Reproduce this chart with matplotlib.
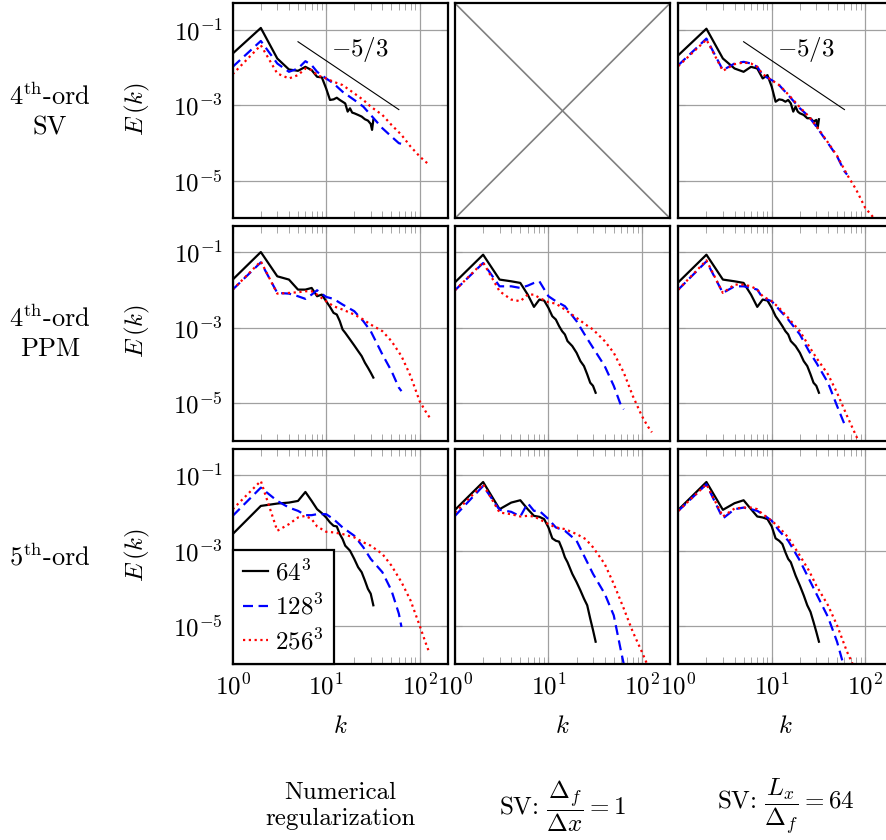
import numpy as np
import matplotlib.pyplot as plt
from matplotlib.ticker import LogLocator, NullLocator

plt.rcParams['mathtext.fontset'] = 'cm'
plt.rcParams['font.family'] = 'serif'
plt.rcParams['font.serif'] = ['cmr10']
plt.rcParams['axes.formatter.use_mathtext'] = True

# wavenumbers sampled for each grid resolution
k64 = [1, 2, 3, 4, 5, 6, 7, 8, 9, 10, 11, 12, 13, 14, 15, 16, 18, 20, 22, 24, 26, 28, 30, 32]
k64_sv = [1, 2, 3, 4, 5, 6, 7, 8, 9, 10, 11, 12, 13, 14, 15, 16, 17, 18, 19, 20, 22, 24, 26, 28, 30, 31, 32]
k128 = [1, 2, 3, 4, 5, 6, 7, 8, 10, 12, 15, 20, 25, 30, 40, 50, 60, 64]
k256 = [1, 2, 3, 4, 5, 6, 7, 8, 10, 12, 15, 20, 25, 30, 40, 50, 64, 80, 100, 115, 128]

# 4th-order SV, numerical regularization
sv_num_64 = [0.0233, 0.111, 0.0172, 0.00881, 0.00811, 0.01035, 0.00845, 0.00564, 0.00542, 0.00277,
             0.00137, 0.00142, 0.00157, 0.00137, 0.00123, 0.00111, 0.000673, 0.000824, 0.000633,
             0.000608, 0.000549, 0.000497, 0.000422, 0.000389, 0.000318, 0.000221, 0.000405]
sv_num_128 = [0.01035, 0.0502, 0.01268, 0.00764, 0.00935, 0.0146, 0.01145, 0.00764, 0.00509, 0.00376,
              0.00226, 0.00137, 0.000912, 0.000549, 0.000244, 0.000147, 9.8e-5, 9.4e-5]
sv_num_256 = [0.00662, 0.0387, 0.0069, 0.00509, 0.00624, 0.00935, 0.00845, 0.00624, 0.00509, 0.00416,
              0.0034, 0.00205, 0.00137, 0.000912, 0.000549, 0.000299, 0.000163, 8.0e-5, 4.4e-5,
              3.2e-5, 2.6e-5]

# 4th-order SV, Lx/Delta_f = 64
sv_lx_64 = [0.0210, 0.106, 0.0172, 0.00935, 0.00764, 0.01035, 0.00935, 0.00509, 0.00624, 0.00307,
            0.00123, 0.00142, 0.00137, 0.00123, 0.00137, 0.00111, 0.000673, 0.000912, 0.000673,
            0.000608, 0.000549, 0.000449, 0.000449, 0.000366, 0.000405, 0.000244, 0.000422]
sv_lx_128 = [0.01145, 0.058, 0.00845, 0.01268, 0.01403, 0.01268, 0.01035, 0.00624, 0.0046, 0.0034,
             0.00185, 0.000824, 0.000497, 0.00027, 9.8e-5, 4.4e-5, 1.76e-5, 1.44e-5]
sv_lx_256 = [0.0108, 0.0545, 0.00811, 0.01217, 0.01346, 0.01268, 0.01035, 0.00662, 0.0046, 0.0034,
             0.00193, 0.000875, 0.000497, 0.000281, 0.000102, 4.55e-5, 1.44e-5, 5.8e-6, 1.9e-6,
             1.26e-6, 9.3e-7]

# 4th-order PPM, numerical regularization
ppm_num_64 = [0.0190, 0.102, 0.0232, 0.0190, 0.0103, 0.0103, 0.0114, 0.00687, 0.0076, 0.00507,
              0.00359, 0.00249, 0.00225, 0.0015, 0.000903, 0.000738, 0.000492, 0.000341, 0.000242,
              0.000178, 0.000119, 8.8e-5, 6.5e-5, 4.8e-5]
ppm_num_128 = [0.0103, 0.0544, 0.00841, 0.00807, 0.00687, 0.00585, 0.0076, 0.0099, 0.00659, 0.00585,
               0.00414, 0.00276, 0.0015, 0.000816, 0.000197, 7.2e-5, 2.6e-5, 2.1e-5]
ppm_num_256 = [0.0103, 0.0578, 0.00807, 0.00841, 0.00877, 0.00931, 0.00931, 0.0076, 0.00507, 0.00374,
               0.00305, 0.00225, 0.00166, 0.00122, 0.000816, 0.000445, 0.000178, 5.3e-5, 1.15e-5,
               6.3e-6, 4.2e-6]

# 4th-order PPM, Delta_f/Delta_x = 1
ppm_dx_64 = [0.0161, 0.0868, 0.0190, 0.0171, 0.0155, 0.0076, 0.00359, 0.00561, 0.00528, 0.00338,
             0.00203, 0.00166, 0.00111, 0.000816, 0.000667, 0.000445, 0.000328, 0.000218, 0.000131,
             9.7e-5, 5.85e-5, 3.5e-5, 2.9e-5, 1.9e-5]
ppm_dx_128 = [0.0099, 0.0522, 0.0126, 0.0126, 0.0114, 0.0131, 0.0155, 0.0171, 0.00687, 0.00507,
              0.00374, 0.0015, 0.000603, 0.000296, 9.7e-5, 2.9e-5, 8.5e-6, 6.9e-6]
ppm_dx_256 = [0.0099, 0.0544, 0.00931, 0.00561, 0.00507, 0.0076, 0.0076, 0.00621, 0.00476, 0.00439,
              0.00305, 0.00184, 0.00122, 0.000903, 0.000445, 0.000218, 6.5e-5, 1.56e-5, 4.6e-6,
              2.5e-6, 1.7e-6]

# 4th-order PPM, Lx/Delta_f = 64
ppm_lx_64 = [0.0161, 0.0868, 0.0190, 0.0171, 0.0155, 0.0076, 0.00359, 0.00561, 0.00528, 0.00338,
             0.00203, 0.0015, 0.00111, 0.000816, 0.000667, 0.000445, 0.000328, 0.000218, 0.000131,
             9.7e-5, 5.85e-5, 3.5e-5, 2.9e-5, 1.9e-5]
ppm_lx_128 = [0.0103, 0.0578, 0.00841, 0.0126, 0.0126, 0.0114, 0.0103, 0.00621, 0.00507, 0.00305,
              0.00166, 0.000667, 0.000242, 0.000119, 3.5e-5, 8.5e-6, 2.8e-6, 2.3e-6]
ppm_lx_256 = [0.0103, 0.0615, 0.00841, 0.014, 0.014, 0.0126, 0.0103, 0.00687, 0.00507, 0.00338,
              0.00184, 0.000816, 0.000328, 0.000161, 5.85e-5, 1.9e-5, 4.6e-6, 1.37e-6, 4.1e-7,
              1.8e-7, 1.0e-7]

# 5th-order, numerical regularization
o5_num_64 = [0.00278, 0.0155, 0.0179, 0.019, 0.021, 0.0363, 0.021, 0.0127, 0.00995, 0.00765,
             0.00565, 0.00461, 0.00443, 0.00278, 0.00205, 0.00137, 0.00101, 0.00061, 0.000367,
             0.000271, 0.000163, 9.8e-5, 7.3e-5, 3.6e-5]
o5_num_128 = [0.00845, 0.0473, 0.021, 0.014, 0.01146, 0.00881, 0.00881, 0.00936, 0.00936, 0.00692,
              0.00417, 0.00251, 0.00124, 0.00061, 0.000271, 8.9e-5, 2.16e-5, 9.6e-6]
o5_num_256 = [0.0127, 0.071, 0.0034, 0.0051, 0.00765, 0.00845, 0.00692, 0.00443, 0.0032, 0.00308,
              0.00278, 0.00227, 0.00168, 0.00137, 0.000824, 0.000406, 0.000148, 4.85e-5, 1.06e-5,
              3.9e-6, 1.9e-6]

# 5th-order, Delta_f/Delta_x = 1
o5_dx_64 = [0.0122, 0.0667, 0.0127, 0.019, 0.0219, 0.0127, 0.00845, 0.00796, 0.00692, 0.00417,
            0.00214, 0.00185, 0.00175, 0.00112, 0.000674, 0.000498, 0.000245, 0.000148, 8.9e-5,
            5.4e-5, 3.6e-5, 1.6e-5, 7.9e-6, 3.9e-6]
o5_dx_128 = [0.00845, 0.0524, 0.0122, 0.0108, 0.00813, 0.0183, 0.01146, 0.01146, 0.00692, 0.00417,
             0.0034, 0.00185, 0.00061, 0.000245, 7.3e-5, 1.95e-5, 2.1e-6, 1.0e-6]
o5_dx_256 = [0.01035, 0.058, 0.01035, 0.00935, 0.00813, 0.00845, 0.00813, 0.00692, 0.0051, 0.00417,
             0.00377, 0.00278, 0.00205, 0.00124, 0.000449, 0.000133, 2.95e-5, 7.1e-6, 2.1e-6,
             9.3e-7, 4.2e-7]

# 5th-order, Lx/Delta_f = 64
o5_lx_64 = [0.0122, 0.0667, 0.0122, 0.0183, 0.0219, 0.0127, 0.00813, 0.00765, 0.00692, 0.00443,
            0.00214, 0.00185, 0.00151, 0.000912, 0.00061, 0.000498, 0.000221, 0.00012, 6.6e-5,
            3.6e-5, 2.4e-5, 1.3e-5, 7.1e-6, 3.9e-6]
o5_lx_128 = [0.01146, 0.058, 0.0072, 0.0127, 0.014, 0.0127, 0.01146, 0.00936, 0.00625, 0.0034,
             0.00185, 0.000551, 0.000181, 7.3e-5, 1.76e-5, 3.9e-6, 7.7e-7, 4.2e-7]
o5_lx_256 = [0.01146, 0.058, 0.00813, 0.0132, 0.014, 0.014, 0.0127, 0.00936, 0.00625, 0.00417,
             0.00227, 0.000746, 0.0003, 0.00012, 3.6e-5, 1.06e-5, 2.1e-6, 6.3e-7, 1.9e-7,
             8.0e-8, 4.0e-8]

res_labels = [r'$64^3$', r'$128^3$', r'$256^3$']
row_labels = ['4$^{\\mathrm{th}}$-ord\nSV', '4$^{\\mathrm{th}}$-ord\nPPM', '5$^{\\mathrm{th}}$-ord']
col_labels = ['Numerical\nregularization',
              r'SV: $\dfrac{\Delta_f}{\Delta x} = 1$',
              r'SV: $\dfrac{L_x}{\Delta_f} = 64$']

# Kolmogorov reference line E = C k^(-5/3)
slope_k = [5, 60]
slope_c = 0.7

panels = {
    (0, 0): (k64_sv, sv_num_64, sv_num_128, sv_num_256),
    (0, 2): (k64_sv, sv_lx_64, sv_lx_128, sv_lx_256),
    (1, 0): (k64, ppm_num_64, ppm_num_128, ppm_num_256),
    (1, 1): (k64, ppm_dx_64, ppm_dx_128, ppm_dx_256),
    (1, 2): (k64, ppm_lx_64, ppm_lx_128, ppm_lx_256),
    (2, 0): (k64, o5_num_64, o5_num_128, o5_num_256),
    (2, 1): (k64, o5_dx_64, o5_dx_128, o5_dx_256),
    (2, 2): (k64, o5_lx_64, o5_lx_128, o5_lx_256),
}

FS = 18
W, H = 886, 840
fig = plt.figure(figsize=(W / 100, H / 100), dpi=100)

col_x = [232.7, 455.0, 678.3]
row_y = [3.3, 226.0, 449.0]
size = 215.0

styles = [dict(color='black', ls='-', lw=1.6),
          dict(color='blue', ls=(0, (4.5, 2.5)), lw=1.6),
          dict(color='red', ls=(0, (1, 1.6)), lw=1.6)]


def px(x, y):
    return x / W, 1 - y / H


for r in range(3):
    for c in range(3):
        ax = fig.add_axes([col_x[c] / W, 1 - (row_y[r] + size) / H, size / W, size / H])
        for s in ax.spines.values():
            s.set_linewidth(1.6)

        if (r, c) == (0, 1):
            # no SV run for this combination
            ax.plot([0, 1], [0, 1], color='#808080', lw=1.2, transform=ax.transAxes)
            ax.plot([0, 1], [1, 0], color='#808080', lw=1.2, transform=ax.transAxes)
            ax.set_xticks([])
            ax.set_yticks([])
            continue

        ax.set_xscale('log')
        ax.set_yscale('log')
        ax.set_xlim(1, 200)
        ax.set_ylim(1e-6, 0.5)

        k_lo, e64, e128, e256 = panels[(r, c)]
        for kk, ee, st, lab in zip([k_lo, k128, k256], [e64, e128, e256], styles, res_labels):
            ax.plot(kk, ee, label=lab, **st)

        if r == 0:
            ks = np.array(slope_k, dtype=float)
            ax.plot(ks, slope_c * ks ** (-5.0 / 3.0), color='black', lw=0.8)
            ax.text(23, 0.03, r'$-5/3$', fontsize=FS, ha='center', va='center')

        ax.set_xticks([1, 10, 100])
        ax.xaxis.set_minor_locator(LogLocator(base=10, subs=np.arange(2, 10)))
        ax.set_yticks([1e-5, 1e-3, 1e-1])
        ax.yaxis.set_minor_locator(NullLocator())
        ax.grid(True, which='major', color='#a0a0a0', lw=0.9)
        ax.set_axisbelow(True)
        ax.tick_params(which='both', direction='in', top=True, bottom=True, left=True, right=True,
                       color='#999999', labelsize=FS)
        ax.tick_params(which='major', length=5, width=0.8, pad=7)
        ax.tick_params(which='minor', length=5, width=0.6)

        if r == 2:
            ax.set_xticklabels([r'$10^{0}$', r'$10^{1}$', r'$10^{2}$'])
        else:
            ax.set_xticklabels([])
        if c == 0:
            ax.set_yticklabels([r'$10^{-5}$', r'$10^{-3}$', r'$10^{-1}$'])
        else:
            ax.set_yticklabels([])

        if (r, c) == (2, 0):
            leg = ax.legend(loc='lower left', borderaxespad=0, fontsize=FS, fancybox=False,
                            framealpha=1, edgecolor='black', handlelength=1.0,
                            handletextpad=0.3, labelspacing=0.35, borderpad=0.4)
            leg.get_frame().set_linewidth(1.6)

# row annotations and axis labels
row_centres = [111, 333, 557]
for r in range(3):
    fig.text(*px(50, row_centres[r]), row_labels[r], fontsize=19, ha='center', va='center',
             linespacing=1.3)
    fig.text(*px(137, row_centres[r] - 2), r'$E\,(k)$', fontsize=FS, ha='center', va='center',
             rotation=90)

for c in range(3):
    xc = col_x[c] + size / 2
    fig.text(*px(xc, 727), r'$k$', fontsize=FS, ha='center', va='center')
    fig.text(*px(xc, 806), col_labels[c], fontsize=FS, ha='center', va='center',
             linespacing=1.25)

fig.savefig('out.png', dpi=100)
